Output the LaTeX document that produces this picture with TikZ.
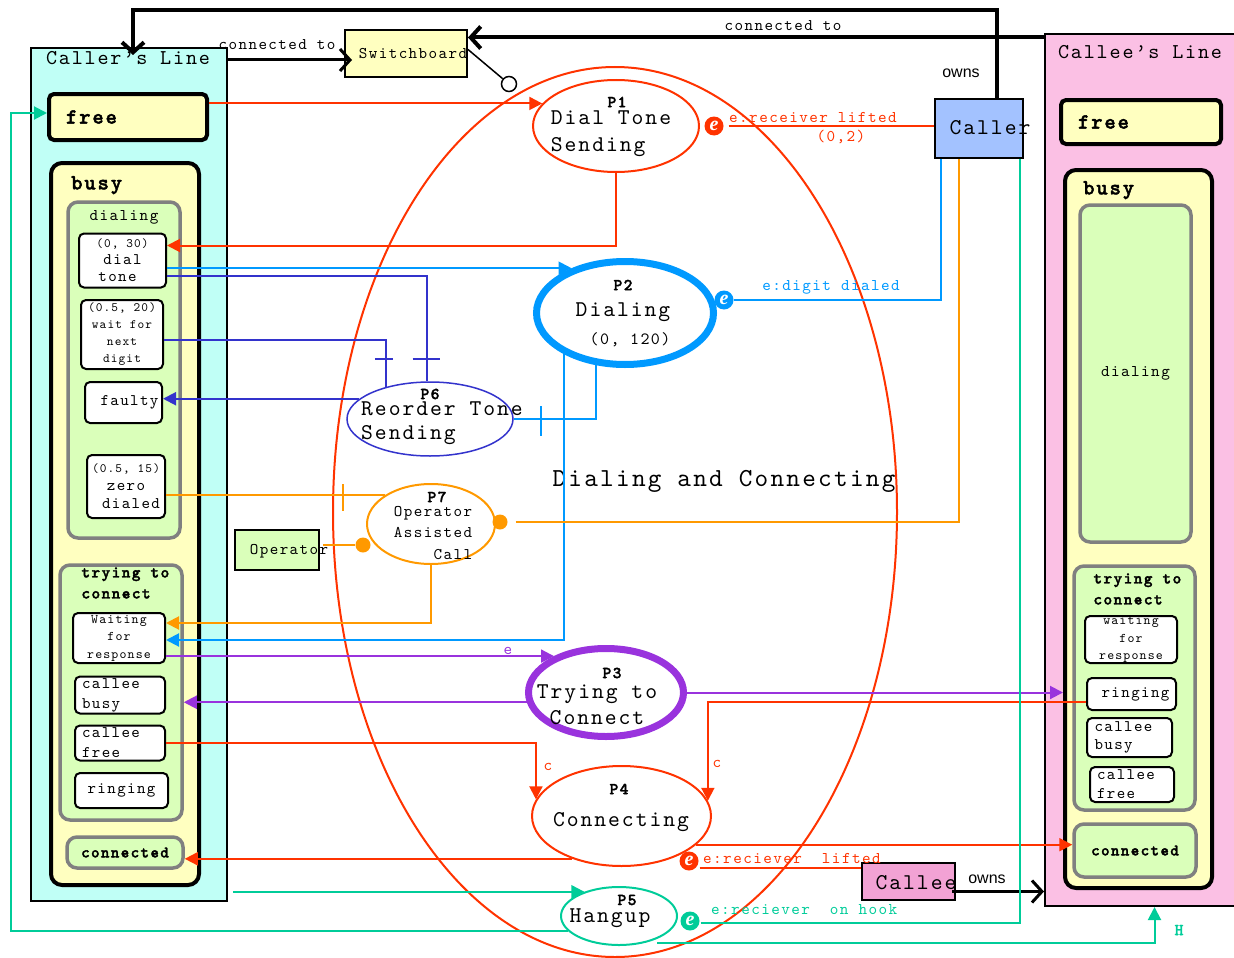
\documentclass[tikz,border=0pt]{standalone}
\usepackage{fontspec}
\setmainfont{lmmono10-regular}[Extension=.otf,BoldFont=lmmonolt10-bold,BoldFeatures={FakeBold=2},Scale=0.98,LetterSpace=8.7]
\newfontfamily\ownsfont{Liberation Sans}
\newfontfamily\evfont{Liberation Serif}
\usepackage{tikz}
\usetikzlibrary{positioning,shapes.geometric,arrows.meta}

\definecolor{lanecyan}{HTML}{C0FFF6}
\definecolor{lanepink}{HTML}{FBC0E4}
\definecolor{stateyel}{HTML}{FFFFC0}
\definecolor{stategrn}{HTML}{DAFFBA}
\definecolor{stategry}{HTML}{808080}
\definecolor{callerblu}{HTML}{A3C2FF}
\definecolor{calleepnk}{HTML}{F2A2D4}
\definecolor{pred}{HTML}{FF3300}
\definecolor{pblue}{HTML}{0099FF}
\definecolor{pdblue}{HTML}{3333CC}
\definecolor{porange}{HTML}{FF9900}
\definecolor{ppurple}{HTML}{9933DD}
\definecolor{pteal}{HTML}{00CC99}

\newcommand{\fsz}[2]{\fontsize{#1}{#2}\selectfont}

\tikzset{
  lane/.style={draw,line width=2pt,inner sep=0pt},
  topstate/.style={draw,line width=4pt,fill=stateyel,rounded corners=#1,inner sep=0pt},
  topstate/.default=11pt,
  substate/.style={draw=stategry,line width=3.5pt,fill=stategrn,rounded corners=10pt,inner sep=0pt,align=center},
  leaf/.style={draw,line width=2pt,fill=white,rounded corners=5pt,inner sep=0pt,align=center},
  actor/.style={draw,line width=2pt,inner sep=0pt},
  proc/.style={ellipse,draw=#1,line width=2pt,inner sep=0pt},
  ttl/.style={inner sep=0pt,font=\fsz{21.5}{24}},
  ctitle/.style={inner sep=0pt,font=\bfseries\fsz{22}{26}},
  stitle/.style={inner sep=0pt,font=\fsz{16.7}{20}},
  btitle/.style={inner sep=0pt,align=left,font=\bfseries\fsz{16.8}{21}},
  ptag/.style={inner sep=0pt,font=\bfseries\fsz{17}{17}},
  btxt/.style={inner sep=0pt,font=\fsz{23}{27}},
  mtxt/.style={inner sep=0pt,font=\fsz{16.6}{20}},
  lbl/.style={inner sep=0pt,text=#1,font=\fsz{16.7}{20}},
  emark/.style={circle,fill=#1,text=white,inner sep=0pt,minimum size=19pt,font=\evfont\bfseries\itshape\fsz{20}{20}},
  odot/.style={circle,fill=porange,inner sep=0pt,minimum size=15pt},
  flow/.style={line width=2pt,draw=#1,-{Triangle[length=13pt,width=13pt]}},
  wire/.style={line width=2pt,draw=#1},
  assoc/.style={line width=4pt,-{Straight Barb[length=10pt,width=22pt]}},
}

\begin{document}
\begin{tikzpicture}[x=1pt,y=-1pt]
\useasboundingbox (0,0) rectangle (1234,958);

% swim lanes
\node[lane,fill=lanecyan,minimum width=196pt,minimum height=853pt] (cline) at (129,474.5) {};
\node[lane,fill=lanepink,minimum width=191pt,minimum height=872pt] (eline) at (1140.5,470) {};
\node[ttl] (clinet) at (128,58) {Caller’s Line};
\node[ttl] (elinet) at (1140,52) {Callee’s Line};

% caller's line states
\node[topstate=5pt,minimum height=46pt,text width=124pt,inner xsep=17pt,align=left,font=\bfseries\fsz{22}{26}] (cfree) at (128,117) {free};
\node[topstate,minimum width=148pt,minimum height=722pt,
  label={[ctitle,anchor=north west,xshift=22pt,yshift=-15pt]north west:busy}] (cbusy) at (125,524) {};
\node[substate,minimum width=112pt,minimum height=336pt,
  label={[stitle,anchor=north,yshift=-10pt]north:dialing}] (cdial) at (124,370) {};
\node[leaf,minimum width=87pt,minimum height=54pt,font=\fsz{16.5}{17}] (cdtone) at (122.5,260.5)
  {\fsz{13}{17}(0, 30)\\dial\\tone\hspace*{10pt}};
\node[leaf,minimum width=82pt,minimum height=69pt,font=\fsz{13}{17}] (cwait) at (122,334.5)
  {(0.5, 20)\\wait for\\next\\digit};
\node[leaf,minimum width=77pt,minimum height=41pt,font=\fsz{16.5}{20}] (cfaulty) at (123.5,402.5) {\hspace*{12pt}faulty};
\node[leaf,minimum width=78pt,minimum height=63pt,font=\fsz{16.5}{18}] (czero) at (126,486.5)
  {\fsz{13}{16}(0.5, 15)\\zero\hspace*{30pt}\\\hspace*{10pt}dialed};
\node[substate,minimum width=122pt,minimum height=255pt,
  label={[btitle,anchor=north west,xshift=23pt,yshift=-4pt]north west:trying to\\connect}] (ctry) at (121,692.5) {};
\node[leaf,minimum width=92pt,minimum height=50pt,font=\fsz{13.5}{17.5}] (cwfr) at (119,638)
  {Waiting\\for\\response};
\node[leaf,minimum width=90pt,minimum height=37pt,text width=76pt,align=left,font=\fsz{16.5}{20}] (ccbusy) at (120,695) {callee\\busy};
\node[leaf,minimum width=90pt,minimum height=35pt,text width=76pt,align=left,font=\fsz{16.5}{20}] (ccfree) at (120,743) {callee\\free};
\node[leaf,minimum width=93pt,minimum height=35pt,font=\fsz{16.5}{20}] (cring) at (121.5,790.5) {ringing};
\node[substate,minimum width=116pt,minimum height=31pt,font=\bfseries\fsz{16.5}{20}] (cconn) at (125,852.5) {connected};

% callee's line states
\node[topstate=5pt,minimum height=44pt,text width=126pt,inner xsep=17pt,align=left,font=\bfseries\fsz{22}{26}] (efree) at (1141,122) {free};
\node[topstate,minimum width=147pt,minimum height=718pt,
  label={[ctitle,anchor=north west,xshift=20pt,yshift=-13pt]north west:busy}] (ebusy) at (1138.5,529) {};
\node[substate,minimum width=111pt,minimum height=337pt,font=\fsz{16.7}{20}] (edial) at (1135.5,373.5) {dialing};
\node[substate,minimum width=121pt,minimum height=244pt,
  label={[btitle,anchor=north west,xshift=21pt,yshift=-9pt]north west:trying to\\connect}] (etry) at (1134.5,688) {};
\node[leaf,minimum width=92pt,minimum height=47pt,font=\fsz{13.5}{17.5}] (ewfr) at (1131,639.5)
  {waiting\\for\\response};
\node[leaf,minimum width=89pt,minimum height=32pt,font=\fsz{16.5}{20}] (ering) at (1131.5,694) {\hspace*{8pt}ringing};
\node[leaf,minimum width=85pt,minimum height=39pt,text width=70pt,align=left,font=\fsz{16.5}{18}] (ecbusy) at (1129.5,737.5) {callee\\busy};
\node[leaf,minimum width=84pt,minimum height=35pt,text width=70pt,align=left,font=\fsz{16.5}{19}] (ecfree) at (1132,784.5) {callee\\free};
\node[substate,minimum width=122pt,minimum height=53pt,font=\bfseries\fsz{16.5}{20}] (econn) at (1135,850.5) {connected};

% actors
\node[actor,fill=stateyel,minimum width=122pt,minimum height=47pt] (sb) at (406,53.5) {};
\node[mtxt] (sbt) at (413,54) {Switchboard};
\node[circle,draw,fill=white,line width=1.5pt,minimum size=15pt,inner sep=0pt] (sbplug) at (509,84) {};
\node[actor,fill=callerblu,minimum width=88pt,minimum height=59pt] (caller) at (979,128) {};
\node[btxt] (callert) at (990,128) {Caller};
\node[actor,fill=calleepnk,minimum width=93pt,minimum height=37pt] (callee) at (908.5,881.5) {};
\node[btxt] (calleet) at (916,883) {Callee};
\node[actor,fill=stategrn,minimum width=84pt,minimum height=40pt] (oper) at (277,550) {};
\node[mtxt] (opert) at (289,551) {Operator};

% processes
\node[proc=pred,minimum width=564pt,minimum height=890pt] (dc) at (615,512) {};
\node[btxt,font=\fsz{26.5}{30}] (dct) at (724,481) {Dialing and Connecting};
\node[proc=pred,minimum width=166pt,minimum height=92pt] (p1) at (616,126) {};
\node[ptag] (p1tag) at (617,102) {P1};
\node[btxt,align=left] (p1txt) at (611,134) {Dial Tone\\Sending};
\node[proc=pblue,line width=7pt,minimum width=177pt,minimum height=103pt] (p2) at (625,313) {};
\node[ptag] (p2tag) at (623,285) {P2};
\node[btxt] (p2txt) at (623,312) {Dialing};
\node[inner sep=0pt,font=\fsz{17.5}{20}] (p2time) at (630,340) {(0, 120)};
\node[proc=ppurple,line width=7pt,minimum width=155pt,minimum height=88pt] (p3) at (606,692.5) {};
\node[ptag] (p3tag) at (612,673) {P3};
\node[btxt,align=center,font=\fsz{23}{26}] (p3txt) at (597,705) {Trying to\\Connect};
\node[proc=pred,minimum width=179pt,minimum height=100pt] (p4) at (621.5,816) {};
\node[ptag] (p4tag) at (619,789) {P4};
\node[btxt] (p4txt) at (621,822) {Connecting};
\node[proc=pteal,minimum width=116pt,minimum height=58pt] (p5) at (619,916) {};
\node[ptag] (p5tag) at (627,900) {P5};
\node[btxt] (p5txt) at (610,918) {Hangup};
\node[proc=pdblue,line width=1.5pt,minimum width=166pt,minimum height=74pt] (p6) at (430,419) {};
\node[ptag] (p6tag) at (430,394) {P6};
\node[btxt,align=left,font=\fsz{23}{24}] (p6txt) at (442,423) {Reorder Tone\\Sending};
\node[proc=porange,minimum width=128pt,minimum height=80pt] (p7) at (431,524) {};
\node[ptag] (p7tag) at (437,497) {P7};
\node[mtxt,align=right,font=\fsz{16.6}{21.5}] (p7txt) at (433,533) {Operator\\Assisted\\Call};

% associations
\coordinate (toprail) at (0,10);
\coordinate (callerup) at ([xshift=18pt]caller.north);
\coordinate (clinein) at ([xshift=4pt,yshift=-8pt]cline.north);
\draw[assoc] (callerup) -- (callerup |- toprail) -| (clinein);
\coordinate (sbright) at ([yshift=16pt]sb.east);
\draw[assoc] (eline.west |- sbright) -- (sbright);
\node[mtxt] (conn1) at (783,26) {connected to};
\coordinate (sbleft) at ([xshift=8pt,yshift=-6.5pt]sb.west);
\draw[assoc,line width=3pt] (cline.east |- sbleft) -- (sbleft);
\node[mtxt] (conn2) at (277,45) {connected to};
\draw[line width=1.5pt] ([yshift=4pt]sb.east) -- (sbplug);
\node[inner sep=0pt,font=\ownsfont\fsz{16}{18}] (owns1) at (961,73) {owns};
\coordinate (calleeout) at ([yshift=-10pt]callee.east);
\draw[assoc,line width=3pt] ([xshift=-4pt]calleeout) -- (calleeout -| eline.west);
\node[inner sep=0pt,font=\ownsfont\fsz{16}{18}] (owns2) at (987,879) {owns};

% P1
\draw[flow=pred] (cfree.east |- p1.163) -- (p1.163);
\node[emark=pred] (p1e) at ([xshift=14pt]p1.east) {e};
\draw[wire=pred] ([xshift=5pt]p1e.east) -- (caller.west |- p1e.east);
\node[lbl=pred,anchor=west] (p1ev) at (729,117) {e:receiver lifted};
\node[lbl=pred] (p1et) at (841,137) {(0,2)};
\draw[flow=pred] (p1.south) |- ([yshift=15pt]cdtone.east);

% P2
\draw[flow=pblue] (cdtone.east |- p2.140) -- (p2.140);
\node[emark=pblue] (p2e) at ([xshift=7pt,yshift=13pt]p2.east) {e};
\draw[wire=pblue] (p2e.east) -| ([xshift=-38pt]caller.south);
\node[lbl=pblue] (p2ev) at (831,287) {e:digit dialed};
\draw[flow=pblue] (p2.214) |- ([yshift=-2pt]cwfr.east);
\draw[wire=pblue] (p2.241) |- (p6.east);
\draw[wire=pblue] ([xshift=27pt,yshift=13pt]p6.east) -- ([xshift=27pt,yshift=-17pt]p6.east);

% P6
\draw[wire=pdblue] ([yshift=-15pt]cdtone.east) -| (p6.95);
\draw[wire=pdblue] ([xshift=-14pt,yshift=22pt]p6.95) -- ([xshift=13pt,yshift=22pt]p6.95);
\draw[wire=pdblue] ([yshift=-5pt]cwait.east) -| (p6.144);
\draw[wire=pdblue] ([xshift=-11pt,yshift=28pt]p6.144) -- ([xshift=7pt,yshift=28pt]p6.144);
\draw[flow=pdblue] (p6.164) -- (cfaulty.east |- p6.164);

% P7
\draw[wire=porange] (czero.east |- p7.148) -- (p7.148);
\draw[wire=porange] ([xshift=-42pt,yshift=11pt]p7.148) -- ([xshift=-42pt,yshift=-16pt]p7.148);
\node[odot] (p7r) at ([xshift=4pt,yshift=2pt]p7.east) {};
\draw[wire=porange] ([xshift=8pt]p7r.east) -| ([xshift=-20pt]caller.south);
\node[odot] (p7l) at ([xshift=-3pt,yshift=-21pt]p7.west) {};
\draw[wire=porange] ([xshift=3pt]oper.east |- p7l) -- (p7l);
\draw[flow=porange] (p7.south) |- ([yshift=15pt]cwfr.east);

% P3
\draw[flow=ppurple] (cwfr.east |- p3.145) -- (p3.145);
\node[lbl=ppurple] (p3ev) at (508,651) {e};
\draw[flow=ppurple] (p3.187) -- (ctry.east |- p3.187);
\draw[flow=ppurple] (p3.east) -- (ebusy.west |- p3.east);

% P4
\draw[flow=pred] ([yshift=-8pt]ering.west) -| (p4.10);
\node[lbl=pred] (p4c1) at (717,764) {c};
\draw[flow=pred] (ccfree.east) -| (p4.169);
\node[lbl=pred] (p4c2) at (548,767) {c};
\draw[flow=pred] (p4.339) -- (econn.west |- p4.339);
\draw[flow=pred] (p4.221) -- (cconn.east |- p4.221);
\node[emark=pred] (p4e) at (689,861) {e};
\coordinate (p4eline) at ([xshift=1pt,yshift=-7pt]p4e.east);
\draw[wire=pred] (p4eline) -- (p4eline -| callee.west);
\node[lbl=pred,anchor=west] (p4ev) at (703,858) {e:reciever\ \ lifted};

% P5
\draw[flow=pteal,shorten <=5pt] (cline.east |- p5.145) -- (p5.145);
\node[emark=pteal] (p5e) at ([xshift=12pt,yshift=-5pt]p5.east) {e};
\coordinate (p5eline) at ([xshift=1pt,yshift=-2pt]p5e.east);
\draw[wire=pteal] (p5eline) -| ([xshift=41pt]caller.south);
\node[lbl=pteal,anchor=west] (p5ev) at (711,910) {e:reciever\ \ on hook};
\draw[flow=pteal] (p5.197) -| ([xshift=-36pt,yshift=4pt]cfree.west) -- ([yshift=4pt]cfree.west);
\draw[flow=pteal] ([xshift=38pt,yshift=3pt]p5.south) -| ([xshift=14pt]eline.south);
\node[lbl=pteal,font=\bfseries\fsz{17}{20}] (p5h) at (1179,930) {H};
\end{tikzpicture}
\end{document}
